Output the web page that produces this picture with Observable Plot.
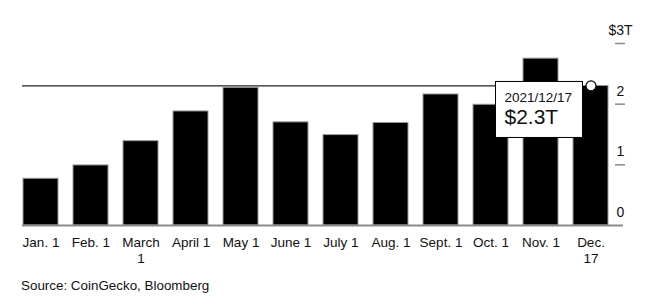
<!DOCTYPE html>
<html>
<head>
<meta charset="utf-8">
<script src="https://cdn.jsdelivr.net/npm/d3@7"></script>
<script src="https://cdn.jsdelivr.net/npm/@observablehq/plot@0.6"></script>
<style>
  html, body { margin: 0; padding: 0; background: #fff; }
  body { width: 658px; height: 304px; overflow: hidden; font-family: "Liberation Sans", Arial, Helvetica, sans-serif; }
  #caption { font-size: 13.4px; line-height: 16px; color: #111; padding-left: 21px; margin-top: 8px; }
</style>
</head>
<body>
<div id="chart"></div>
<div id="caption">Source: CoinGecko, Bloomberg</div>
<script>
const dates = ["Jan. 1","Feb. 1","March 1","April 1","May 1","June 1","July 1","Aug. 1","Sept. 1","Oct. 1","Nov. 1","Dec. 17"];
const tickLabels = ["Jan. 1","Feb. 1","March\n1","April 1","May 1","June 1","July 1","Aug. 1","Sept. 1","Oct. 1","Nov. 1","Dec.\n17"];
const marketCap = [0.77, 0.99, 1.39, 1.88, 2.27, 1.70, 1.49, 1.69, 2.16, 1.99, 2.75, 2.30];
const yTicks = [0, 1, 2, 3];
const yTickLabels = ["0", "1", "2", "$3T"];
const tipDate = "2021/12/17";
const tipValue = "$2.3T";

const data = dates.map((d, i) => ({date: d, value: marketCap[i]}));
const last = data[data.length - 1];

function tooltip(index, scales) {
  const cx = scales.x(last.date) + scales.x.bandwidth() / 2;
  const cy = scales.y(last.value);
  const g = d3.create("svg:g").attr("transform", `translate(${cx},${cy})`).attr("text-anchor", "start");
  g.append("rect")
    .attr("x", -95).attr("y", -4).attr("width", 87).attr("height", 56)
    .attr("fill", "#fff").attr("stroke", "#000").attr("stroke-width", 1);
  g.append("text").attr("x", -86).attr("y", 17).attr("text-anchor", "start")
    .attr("font-size", 13.5).attr("fill", "#111").text(tipDate);
  g.append("text").attr("x", -86).attr("y", 39).attr("text-anchor", "start")
    .attr("font-size", 21).attr("fill", "#111").text(tipValue);
  return g.node();
}

const chart = Plot.plot({
  width: 658,
  height: 270,
  marginLeft: 22,
  marginRight: 50,
  marginTop: 43,
  marginBottom: 45,
  style: {fontFamily: '"Liberation Sans", Arial, Helvetica, sans-serif', fontSize: "13.5px", color: "#111", background: "#fff"},
  x: {domain: dates, paddingInner: 0.3, paddingOuter: 0, label: null},
  y: {domain: [0, 3], label: null},
  marks: [
    Plot.ruleY([last.value], {stroke: "#222", strokeWidth: 1.2}),
    Plot.barY(data, {x: "date", y: "value", fill: "#000", stroke: "#999", strokeWidth: 1}),
    Plot.ruleY([0], {stroke: "#8a8a8a", strokeWidth: 2, insetRight: -15}),
    Plot.axisY([1, 2, 3], {anchor: "right", tickSize: 10, dx: 6, tickFormat: () => "", stroke: "#888", strokeWidth: 1.5, label: null}),
    Plot.text(yTicks, {y: d => d, frameAnchor: "right", dx: 12, dy: -13, text: (d, i) => yTickLabels[i], fontSize: 14, fill: "#111", textAnchor: "middle"}),
    Plot.axisX({tickSize: 0, tickPadding: 10, tickFormat: (d, i) => tickLabels[dates.indexOf(d)], fontSize: 13.5, fill: "#111", lineHeight: 1.18, label: null}),
    Plot.dot([last], {x: "date", y: "value", r: 5, fill: "#fff", stroke: "#000", strokeWidth: 1.2}),
    tooltip
  ]
});
document.getElementById("chart").appendChild(chart);
</script>
</body>
</html>
